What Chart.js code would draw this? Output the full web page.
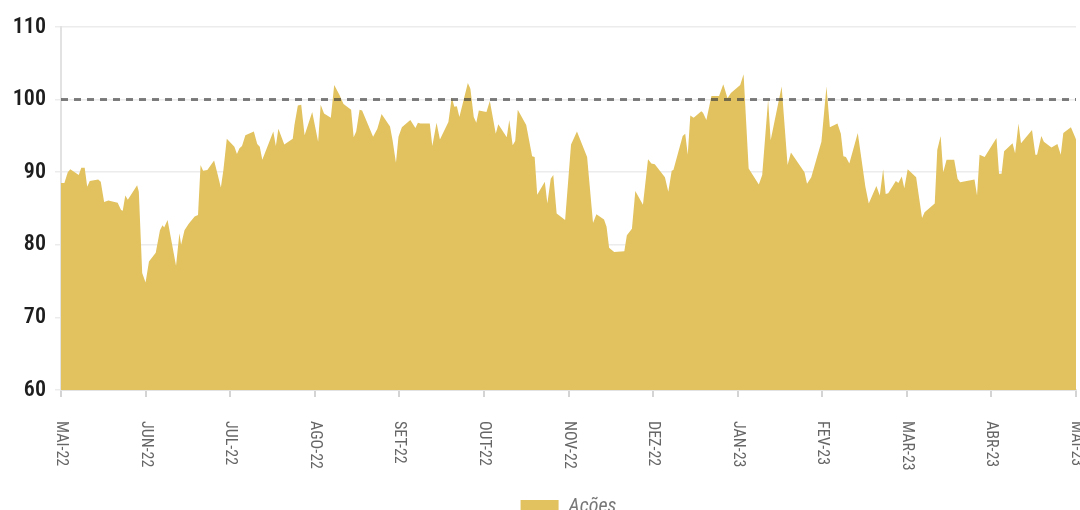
<!DOCTYPE html>
<html lang="pt">
<head>
  <meta charset="UTF-8" />
  <title>Ações</title>
  <script src="https://cdn.jsdelivr.net/npm/chart.js"></script>
  <style>
    html, body {
      margin: 0;
      padding: 0;
      background: #fff;
      overflow: hidden;
    }
    #grafico {
      display: block;
    }
  </style>
</head>
<body>
  <canvas id="grafico" width="1080" height="527"></canvas>

  <script>
    // rótulos mensais do eixo x (posição 0 = mai/22)
    const rotulosMeses = ['MAI-22', 'JUN-22', 'JUL-22', 'AGO-22', 'SET-22', 'OUT-22', 'NOV-22',
      'DEZ-22', 'JAN-23', 'FEV-23', 'MAR-23', 'ABR-23', 'MAI-23'];

    // posição de cada observação, em meses desde mai/22
    const mes = [
      0.00, 0.04, 0.08, 0.11, 0.21, 0.24, 0.28, 0.31, 0.34, 0.44, 0.47, 0.51, 0.56, 0.67, 0.71, 0.73,
      0.76, 0.79, 0.90, 0.92, 0.96, 1.00, 1.04, 1.12, 1.17, 1.20, 1.22, 1.26, 1.36, 1.40, 1.42, 1.46,
      1.51, 1.58, 1.62, 1.65, 1.68, 1.73, 1.81, 1.85, 1.89, 1.92, 1.96, 2.05, 2.08, 2.11, 2.14, 2.18,
      2.28, 2.32, 2.35, 2.38, 2.51, 2.54, 2.57, 2.64, 2.74, 2.76, 2.80, 2.84, 2.88, 2.97, 3.04, 3.07,
      3.11, 3.19, 3.23, 3.29, 3.34, 3.43, 3.46, 3.49, 3.53, 3.56, 3.69, 3.74, 3.79, 3.89, 3.92, 3.96,
      3.99, 4.03, 4.13, 4.19, 4.22, 4.25, 4.36, 4.39, 4.44, 4.48, 4.58, 4.62, 4.65, 4.68, 4.71, 4.81,
      4.84, 4.88, 4.91, 4.94, 5.03, 5.07, 5.14, 5.17, 5.27, 5.30, 5.34, 5.37, 5.40, 5.50, 5.57, 5.60,
      5.63, 5.72, 5.75, 5.79, 5.82, 5.86, 5.96, 6.03, 6.10, 6.22, 6.29, 6.33, 6.42, 6.45, 6.48, 6.54,
      6.66, 6.69, 6.75, 6.79, 6.88, 6.94, 6.98, 7.02, 7.14, 7.18, 7.22, 7.24, 7.35, 7.38, 7.41, 7.44,
      7.48, 7.57, 7.59, 7.63, 7.69, 7.78, 7.83, 7.88, 7.92, 8.03, 8.07, 8.13, 8.25, 8.29, 8.36, 8.39,
      8.52, 8.59, 8.63, 8.79, 8.82, 8.87, 8.99, 9.05, 9.09, 9.18, 9.22, 9.25, 9.28, 9.32, 9.42, 9.51,
      9.55, 9.64, 9.68, 9.72, 9.75, 9.78, 9.87, 9.90, 9.94, 9.97, 10.01, 10.11, 10.18, 10.21, 10.33, 10.36,
      10.40, 10.43, 10.47, 10.56, 10.60, 10.63, 10.80, 10.83, 10.86, 10.92, 11.06, 11.09, 11.12, 11.15, 11.25, 11.28,
      11.32, 11.35, 11.48, 11.52, 11.54, 11.59, 11.62, 11.71, 11.78, 11.82, 11.85, 11.94, 11.99, 12.00
    ];

    const acoes = [
      88.5, 88.5, 90.0, 90.4, 89.6, 90.6, 90.6, 88.0, 88.8, 89.0, 88.7, 85.9, 86.1, 85.8, 84.8, 84.7,
      86.8, 86.2, 88.2, 87.3, 76.1, 74.8, 77.7, 78.9, 82.0, 82.7, 82.4, 83.4, 77.1, 81.6, 80.0, 82.0,
      82.9, 83.9, 84.1, 91.0, 90.2, 90.3, 91.6, 89.8, 87.9, 90.3, 94.6, 93.5, 92.5, 93.3, 93.6, 95.1,
      95.6, 93.9, 93.5, 91.7, 95.6, 93.6, 96.0, 93.8, 94.6, 96.5, 99.2, 99.3, 95.1, 98.3, 94.2, 99.3,
      98.1, 97.5, 102.0, 100.7, 99.4, 98.6, 94.8, 95.6, 98.6, 98.5, 94.9, 96.0, 98.0, 96.3, 94.4, 91.3,
      94.9, 96.2, 97.2, 96.1, 96.8, 96.7, 96.7, 93.6, 96.8, 94.5, 96.9, 100.3, 99.0, 99.1, 97.6, 102.3,
      101.5, 97.6, 96.8, 98.5, 98.3, 99.8, 95.3, 96.6, 94.8, 97.2, 93.7, 94.3, 98.6, 96.5, 92.2, 92.1,
      86.9, 88.7, 85.7, 89.1, 89.6, 84.3, 83.4, 93.8, 95.6, 92.1, 83.0, 84.2, 83.5, 82.5, 79.6, 79.0,
      79.1, 81.3, 82.2, 87.4, 85.5, 91.8, 91.2, 91.1, 89.3, 87.3, 90.2, 90.3, 95.0, 95.3, 92.4, 97.8,
      97.5, 98.4, 98.2, 97.2, 100.5, 100.5, 102.1, 100.2, 100.9, 102.0, 103.5, 90.5, 88.3, 89.6, 100.0, 94.4,
      101.8, 91.0, 92.7, 90.0, 88.4, 89.3, 94.2, 101.8, 96.2, 96.7, 95.3, 92.2, 92.1, 91.2, 95.4, 88.0,
      85.7, 88.1, 86.8, 90.4, 87.0, 87.1, 88.8, 88.5, 89.4, 87.8, 90.4, 89.3, 83.7, 84.5, 85.7, 93.1,
      95.0, 90.0, 91.7, 91.7, 89.1, 88.6, 89.0, 86.8, 92.4, 92.1, 94.7, 89.8, 89.8, 92.9, 94.0, 92.6,
      96.7, 94.0, 95.8, 92.4, 92.4, 95.0, 94.2, 93.4, 93.9, 92.4, 95.4, 96.2, 94.8, 94.5
    ];

    const referencia = 100;
    const limitesY = [60, 110];
    const passoY = 10;

    const fonte = "'Liberation Sans Narrow', 'Roboto Condensed', Roboto, sans-serif";
    Chart.defaults.font.family = fonte;

    // rótulos do eixo x girados no sentido horário (lidos de cima para baixo)
    const rotulosX = {
      id: 'rotulosX',
      afterDraw(chart) {
        const eixo = chart.scales.x;
        const ctx = chart.ctx;
        ctx.save();
        ctx.fillStyle = '#666';
        ctx.font = '16px ' + fonte;
        ctx.textAlign = 'left';
        ctx.textBaseline = 'middle';
        rotulosMeses.forEach((txt, i) => {
          ctx.save();
          ctx.translate(eixo.getPixelForValue(i), eixo.top + 31);
          ctx.rotate(Math.PI / 2);
          ctx.fillText(txt, 0, 0);
          ctx.restore();
        });
        ctx.restore();
      }
    };

    new Chart(document.getElementById('grafico'), {
      type: 'line',
      data: {
        datasets: [
          {
            label: 'Referência',
            data: [{ x: 0, y: referencia }, { x: rotulosMeses.length - 1, y: referencia }],
            borderColor: 'rgba(60,60,60,0.65)',
            borderWidth: 3,
            borderDash: [7, 6],
            pointRadius: 0,
            fill: false
          },
          {
            label: 'Ações',
            data: mes.map((m, i) => ({ x: m, y: acoes[i] })),
            backgroundColor: '#e1c25f',
            borderColor: 'rgba(0,0,0,0)',
            borderWidth: 0,
            pointRadius: 0,
            fill: 'start',
            tension: 0
          }
        ]
      },
      options: {
        responsive: false,
        animation: false,
        devicePixelRatio: 1,
        layout: { padding: { top: 27, right: 4, left: 0, bottom: 0 } },
        scales: {
          x: {
            type: 'linear',
            min: 0,
            max: rotulosMeses.length - 1,
            ticks: { display: false, stepSize: 1 },
            grid: { drawOnChartArea: false, drawTicks: true, tickLength: 7, color: '#d4d4d4', lineWidth: 2 },
            border: { color: '#e2e2e2', width: 2 },
            afterFit(s) { s.height = 97; }
          },
          y: {
            min: limitesY[0],
            max: limitesY[1],
            ticks: { stepSize: passoY, color: '#1e1e1e', padding: 9, font: { size: 22, weight: '600' } },
            grid: { color: '#ececec', lineWidth: 1.5, tickLength: 6 },
            border: { color: '#e2e2e2', width: 2 },
            afterFit(s) { s.width = 61; }
          }
        },
        plugins: {
          legend: {
            position: 'bottom',
            fullSize: false,
            labels: {
              boxWidth: 38,
              boxHeight: 14,
              padding: 10,
              color: '#777',
              font: { size: 20, style: 'italic' },
              filter: item => item.text === 'Ações'
            }
          },
          tooltip: { enabled: false }
        }
      },
      plugins: [rotulosX]
    });
  </script>
</body>
</html>
